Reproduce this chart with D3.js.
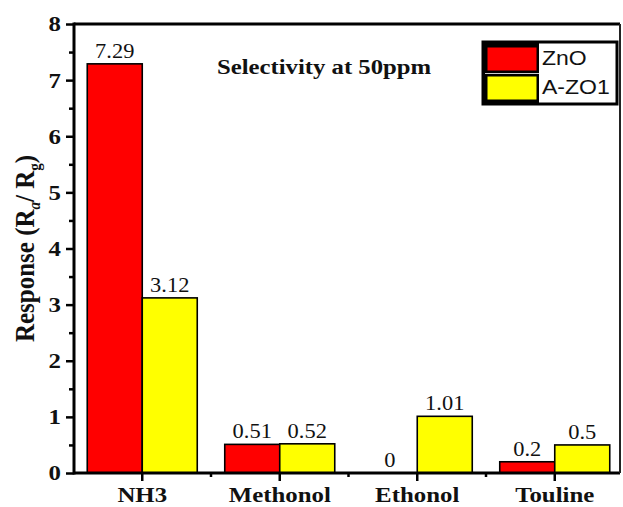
<!DOCTYPE html>
<html>
<head>
<meta charset="utf-8">
<script src="https://cdn.jsdelivr.net/npm/d3@7"></script>
<style>
  html, body { margin: 0; padding: 0; background: #fff; }
  svg { display: block; }
</style>
</head>
<body>
<svg id="chart" width="623" height="507"></svg>
<script>
// Gas selectivity data at 50 ppm
const categories = ["NH3", "Methonol", "Ethonol", "Touline"];
const seriesNames = ["ZnO", "A-ZO1"];
const znoValues = [7.29, 0.51, 0, 0.2];
const azoValues = [3.12, 0.52, 1.01, 0.5];
const valueLabels = [["7.29", "0.51", "0", "0.2"], ["3.12", "0.52", "1.01", "0.5"]];
const yTicks = [0, 1, 2, 3, 4, 5, 6, 7, 8];
const colors = ["#ff0000", "#ffff00"];

const series = [znoValues, azoValues];

const svg = d3.select("#chart");
const serif = "'Liberation Serif', 'Times New Roman', serif";
const sans = "'Liberation Sans', Arial, sans-serif";
const SX = 1.13; // horizontal widening of the glyphs

const plotLeft = 74, plotRight = 620, plotTop = 24, plotBottom = 473;

const x = d3.scaleBand().domain(categories).range([73.5, 623.5]).paddingInner(0.2).paddingOuter(0.1);
const xs = d3.scaleBand().domain(d3.range(series.length)).range([0, x.bandwidth()]);
const y = d3.scaleLinear().domain([0, 8]).range([plotBottom, plotTop]);

// text helper with horizontal widening
function label(g, txt, px, py, opts) {
  const t = g.append("text")
    .attr("transform", `translate(${px},${py}) scale(${opts.sx || SX},1)` + (opts.rotate ? ` rotate(${opts.rotate})` : ""))
    .attr("font-family", opts.family || serif)
    .attr("font-size", opts.size || 22)
    .attr("font-weight", opts.weight || "bold")
    .attr("text-anchor", opts.anchor || "middle")
    .attr("fill", "#111");
  if (opts.dy) t.attr("dy", opts.dy);
  if (txt !== null) t.text(txt);
  return t;
}

// bars
const groups = svg.append("g").selectAll("g")
  .data(categories)
  .join("g")
  .attr("transform", d => `translate(${x(d)},0)`);

series.forEach((vals, si) => {
  groups.filter((d, i) => vals[i] > 0)
    .append("rect")
    .attr("x", xs(si))
    .attr("width", xs.bandwidth())
    .attr("y", d => y(vals[categories.indexOf(d)]))
    .attr("height", d => y(0) - y(vals[categories.indexOf(d)]))
    .attr("fill", colors[si])
    .attr("stroke", "#000")
    .attr("stroke-width", 1.6);
});

// value labels
const valG = svg.append("g");
series.forEach((vals, si) => {
  categories.forEach((c, i) => {
    label(valG, valueLabels[si][i], x(c) + xs(si) + xs.bandwidth() / 2, y(vals[i]) - 6,
      { weight: "normal", size: 22, sx: 1.02 });
  });
});

// axes
const yAxis = d3.axisLeft(y).tickValues(yTicks).tickSize(8).tickFormat("");
const yMinor = d3.axisLeft(y).tickValues(d3.range(0.5, 8, 1)).tickSize(5).tickFormat("");
const gy = svg.append("g").attr("transform", `translate(${plotLeft},0)`).call(yAxis);
const gym = svg.append("g").attr("transform", `translate(${plotLeft},0)`).call(yMinor);

const xAxis = d3.axisBottom(x).tickSize(8).tickFormat("");
const gx = svg.append("g").attr("transform", `translate(0,${plotBottom})`).call(xAxis);
const boundaries = categories.slice(1).map(c => x(c) - x.step() * x.paddingInner() / 2);
const gxm = svg.append("g").attr("transform", `translate(0,${plotBottom})`);
gxm.selectAll("line").data(boundaries).join("line")
  .attr("x1", d => d).attr("x2", d => d).attr("y1", 0).attr("y2", 4)
  .attr("stroke", "#000").attr("stroke-width", 2.5);

[gy, gym, gx].forEach(g => {
  g.select(".domain").remove();
  g.selectAll(".tick line").attr("stroke", "#000").attr("stroke-width", 2.5);
});

// frame
const frame = svg.append("g");
frame.append("line").attr("x1", plotLeft).attr("x2", plotLeft).attr("y1", plotTop - 1.5).attr("y2", plotBottom + 1.5)
  .attr("stroke", "#000").attr("stroke-width", 3);
frame.append("line").attr("x1", plotLeft).attr("x2", plotRight).attr("y1", plotTop).attr("y2", plotTop)
  .attr("stroke", "#000").attr("stroke-width", 3);
frame.append("line").attr("x1", plotLeft).attr("x2", plotRight).attr("y1", plotBottom).attr("y2", plotBottom)
  .attr("stroke", "#000").attr("stroke-width", 3);
frame.append("line").attr("x1", plotRight).attr("x2", plotRight).attr("y1", plotTop).attr("y2", plotBottom)
  .attr("stroke", "#222").attr("stroke-width", 2);

// tick labels
const tl = svg.append("g");
yTicks.forEach(v => label(tl, String(v), 61, y(v), { anchor: "end", dy: "0.34em" }));
categories.forEach(c => label(tl, c, x(c) + x.bandwidth() / 2, 502, {}));

// y axis title
const yt = label(svg, null, 34, 248.5, { rotate: -90, size: 25 });
yt.append("tspan").text("Response (R");
yt.append("tspan").text("a").attr("font-size", 15).attr("font-style", "italic").attr("dy", 5);
yt.append("tspan").text("/ R").attr("dy", -5);
yt.append("tspan").text("g").attr("font-size", 15).attr("dy", 5);
yt.append("tspan").text(")").attr("dy", -5);

// annotation
label(svg, "Selectivity at 50ppm", 217, 74, { anchor: "start", size: 21.5, sx: 1.15 });

// legend
const lg = svg.append("g");
lg.append("rect").attr("x", 483).attr("y", 42).attr("width", 134).attr("height", 62)
  .attr("fill", "#fff").attr("stroke", "#000").attr("stroke-width", 3);
lg.append("rect").attr("x", 483).attr("y", 42).attr("width", 56).attr("height", 62).attr("fill", "#000");
seriesNames.forEach((s, i) => {
  lg.append("rect").attr("x", 487).attr("y", 47 + i * 29).attr("width", 50).attr("height", 24)
    .attr("fill", colors[i]).attr("stroke", "#000").attr("stroke-width", 1);
  label(lg, s, 542, 65 + i * 29, { anchor: "start", family: sans, weight: "normal", size: 19.5, sx: 1.18 });
});
lg.append("line").attr("x1", 485).attr("x2", 539).attr("y1", 73.5).attr("y2", 73.5)
  .attr("stroke", "#ccc").attr("stroke-width", 1);
</script>
</body>
</html>
